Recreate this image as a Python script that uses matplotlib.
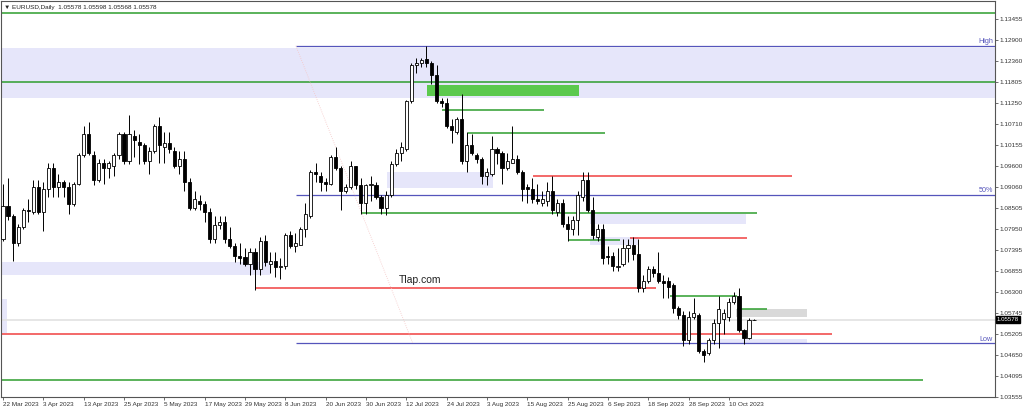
import matplotlib
matplotlib.use('Agg')
import matplotlib.pyplot as plt
from matplotlib.patches import Rectangle
from matplotlib.transforms import blended_transform_factory
import pandas as pd

plt.rcParams['font.family'] = ['Liberation Sans', 'DejaVu Sans']

# EURUSD daily, 22 Mar 2023 .. 17 Oct 2023
opens = [
    1.0770, 1.0855, 1.0830, 1.0760, 1.0800, 1.0845, 1.0840, 1.0905, 1.0840, 1.0900,
    1.0955, 1.0905, 1.0920, 1.0905, 1.0860, 1.0915, 1.0990, 1.1045, 1.0990, 1.0925,
    1.0970, 1.0955, 1.0960, 1.0990, 1.1045, 1.0975, 1.1040, 1.1025, 1.1015, 1.0975,
    1.1000, 1.1065, 1.1010, 1.1020, 1.1000, 1.0960, 1.0980, 1.0920, 1.0850, 1.0870,
    1.0860, 1.0840, 1.0770, 1.0805, 1.0815, 1.0770, 1.0750, 1.0725, 1.0722, 1.0705,
    1.0735, 1.0690, 1.0765, 1.0705, 1.0712, 1.0695, 1.0700, 1.0780, 1.0750, 1.0755,
    1.0795, 1.0830, 1.0945, 1.0935, 1.0920, 1.0915, 1.0985, 1.0955, 1.0895, 1.0905,
    1.0960, 1.0910, 1.0865, 1.0910, 1.0910, 1.0880, 1.0850, 1.0885, 1.0965, 1.0995,
    1.1005, 1.1130, 1.1225, 1.1230, 1.1240, 1.1230, 1.1200, 1.1130, 1.1125, 1.1065,
    1.1050, 1.1085, 1.0975, 1.1015, 1.0990, 1.0980, 1.0935, 1.0940, 1.1005, 1.0995,
    1.0955, 1.0970, 1.0980, 1.0945, 1.0905, 1.0900, 1.0875, 1.0865, 1.0870, 1.0895,
    1.0840, 1.0865, 1.0810, 1.0795, 1.0820, 1.0880, 1.0925, 1.0845, 1.0775, 1.0795,
    1.0725, 1.0725, 1.0695, 1.0705, 1.0745, 1.0755, 1.0730, 1.0640, 1.0660, 1.0690,
    1.0680, 1.0660, 1.0660, 1.0650, 1.0590, 1.0570, 1.0505, 1.0565, 1.0570, 1.0475,
    1.0470, 1.0505, 1.0550, 1.0560, 1.0565, 1.0605, 1.0620, 1.0530, 1.0510, 1.05578,
]
highs = [
    1.0913, 1.0930, 1.0835, 1.0810, 1.0850, 1.0875, 1.0925, 1.0925, 1.0920, 1.0970,
    1.0970, 1.0940, 1.0925, 1.0920, 1.0920, 1.0995, 1.1065, 1.1075, 1.1000, 1.0980,
    1.0980, 1.0975, 1.0995, 1.1050, 1.1050, 1.1095, 1.1055, 1.1045, 1.1020, 1.1010,
    1.1070, 1.1090, 1.1050, 1.1050, 1.1010, 1.1000, 1.1000, 1.0930, 1.0895, 1.0885,
    1.0870, 1.0850, 1.0830, 1.0830, 1.0830, 1.0800, 1.0760, 1.0760, 1.0745, 1.0745,
    1.0745, 1.0775, 1.0780, 1.0735, 1.0735, 1.0720, 1.0785, 1.0790, 1.0785, 1.0800,
    1.0865, 1.0950, 1.0970, 1.0945, 1.0930, 1.0990, 1.1010, 1.0960, 1.0915, 1.0975,
    1.0960, 1.0930, 1.0915, 1.0935, 1.0920, 1.0885, 1.0895, 1.0975, 1.1005, 1.1025,
    1.1135, 1.1230, 1.1245, 1.1245, 1.1276, 1.1235, 1.1225, 1.1140, 1.1140, 1.1085,
    1.1090, 1.1150, 1.1050, 1.1045, 1.0995, 1.0985, 1.0955, 1.1040, 1.1010, 1.1000,
    1.0995, 1.1065, 1.0990, 1.0950, 1.0915, 1.0930, 1.0915, 1.0895, 1.0920, 1.0935,
    1.0875, 1.0875, 1.0830, 1.0830, 1.0895, 1.0945, 1.0945, 1.0880, 1.0810, 1.0810,
    1.0750, 1.0735, 1.0745, 1.0770, 1.0770, 1.0775, 1.0770, 1.0675, 1.0700, 1.0700,
    1.0735, 1.0675, 1.0670, 1.0655, 1.0595, 1.0580, 1.0580, 1.0615, 1.0575, 1.0480,
    1.0510, 1.0560, 1.0620, 1.0585, 1.0615, 1.0630, 1.0640, 1.0535, 1.0562, 1.05598,
]
lows = [
    1.0765, 1.0820, 1.0713, 1.0750, 1.0795, 1.0815, 1.0835, 1.0835, 1.0790, 1.0880,
    1.0880, 1.0880, 1.0880, 1.0835, 1.0855, 1.0910, 1.0985, 1.0990, 1.0910, 1.0920,
    1.0915, 1.0930, 1.0935, 1.0980, 1.0965, 1.0965, 1.0985, 1.0965, 1.0965, 1.0940,
    1.0995, 1.0970, 1.0970, 1.0995, 1.0955, 1.0940, 1.0895, 1.0845, 1.0845, 1.0845,
    1.0815, 1.0760, 1.0760, 1.0795, 1.0760, 1.0745, 1.0710, 1.0705, 1.0700, 1.0675,
    1.0635, 1.0675, 1.0700, 1.0680, 1.0670, 1.0665, 1.0690, 1.0745, 1.0735, 1.0755,
    1.0775, 1.0825, 1.0920, 1.0895, 1.0895, 1.0910, 1.0950, 1.0845, 1.0890, 1.0900,
    1.0900, 1.0835, 1.0835, 1.0870, 1.0875, 1.0835, 1.0833, 1.0880, 1.0960, 1.0975,
    1.1000, 1.1125, 1.1205, 1.1220, 1.1220, 1.1175, 1.1125, 1.1115, 1.1060, 1.1020,
    1.1045, 1.0965, 1.0945, 1.0990, 1.0970, 1.0915, 1.0910, 1.0935, 1.0965, 1.0915,
    1.0950, 1.0970, 1.0940, 1.0870, 1.0865, 1.0865, 1.0860, 1.0855, 1.0855, 1.0835,
    1.0830, 1.0800, 1.0765, 1.0780, 1.0780, 1.0870, 1.0840, 1.0770, 1.0765, 1.0705,
    1.0705, 1.0685, 1.0685, 1.0700, 1.0710, 1.0715, 1.0630, 1.0630, 1.0655, 1.0670,
    1.0655, 1.0615, 1.0615, 1.0575, 1.0560, 1.0490, 1.0495, 1.0560, 1.0470, 1.0448,
    1.0465, 1.0495, 1.0485, 1.0520, 1.0555, 1.0600, 1.0525, 1.0495, 1.0508, 1.05568,
]
closes = [
    1.0855, 1.0830, 1.0760, 1.0800, 1.0845, 1.0843, 1.0905, 1.0840, 1.0900, 1.0955,
    1.0905, 1.0920, 1.0905, 1.0860, 1.0915, 1.0990, 1.1045, 1.0995, 1.0925, 1.0970,
    1.0955, 1.0970, 1.0990, 1.1045, 1.0975, 1.1045, 1.1030, 1.1015, 1.0975, 1.1000,
    1.1065, 1.1015, 1.1020, 1.1005, 1.0960, 1.0980, 1.0920, 1.0850, 1.0875, 1.0860,
    1.0840, 1.0770, 1.0805, 1.0815, 1.0770, 1.0750, 1.0725, 1.0720, 1.0705, 1.0735,
    1.0690, 1.0765, 1.0710, 1.0712, 1.0695, 1.0700, 1.0780, 1.0750, 1.0760, 1.0795,
    1.0835, 1.0945, 1.0940, 1.0920, 1.0915, 1.0985, 1.0955, 1.0895, 1.0905, 1.0960,
    1.0910, 1.0865, 1.0910, 1.0915, 1.0880, 1.0850, 1.0885, 1.0965, 1.0995, 1.1010,
    1.1130, 1.1225, 1.1232, 1.1238, 1.1230, 1.1200, 1.1130, 1.1125, 1.1065, 1.1055,
    1.1085, 1.0975, 1.1015, 1.0995, 1.0980, 1.0935, 1.0945, 1.1005, 1.0995, 1.0955,
    1.0975, 1.0980, 1.0945, 1.0900, 1.0900, 1.0875, 1.0870, 1.0875, 1.0895, 1.0845,
    1.0865, 1.0810, 1.0795, 1.0820, 1.0885, 1.0925, 1.0845, 1.0780, 1.0795, 1.0720,
    1.0722, 1.0698, 1.0700, 1.0745, 1.0755, 1.0730, 1.0640, 1.0660, 1.0690, 1.0680,
    1.0660, 1.0655, 1.0645, 1.0590, 1.0570, 1.0505, 1.0565, 1.0575, 1.0475, 1.0465,
    1.0505, 1.0550, 1.0585, 1.0575, 1.0605, 1.0620, 1.0530, 1.0510, 1.0558, 1.05578,
]

price_ticks = [1.13455, 1.12900, 1.12360, 1.11805, 1.11250, 1.10710, 1.10155, 1.09600,
               1.09060, 1.08505, 1.07950, 1.07395, 1.06855, 1.06300, 1.05745, 1.05205,
               1.04650, 1.04095, 1.03555]

# (price, first bar, last bar)
green_levels = [(1.1362, -5, 300), (1.1181, -5, 300), (1.1108, 87.1, 107.3),
                (1.1047, 92.3, 119.4), (1.0838, 71.2, 149.5), (1.0766, 112.3, 122.4),
                (1.0621, 132.3, 145.6), (1.0585, 145.6, 151.6), (1.04005, -5, 182.5)]
red_levels = [(1.0935, 105.2, 156.5), (1.0773, 124.4, 147.6),
              (1.0642, 50.1, 129.5), (1.0520, -5, 164.5)]
# zones: (first bar, last bar, low, high)
lavender_zones = [(-5, 300, 1.1138, 1.1271), (-5, 53, 1.0674, 1.0710),
                  (76.1, 97.3, 1.0903, 1.0944), (116.5, 147.4, 1.0810, 1.0836),
                  (116.5, 126, 1.0754, 1.0775), (142.3, 159.5, 1.0496, 1.0507),
                  (-5, 0.8, 1.0522, 1.0613)]
gray_zone = (145.4, 159.5, 1.0564, 1.0586)
green_zone = (84.1, 114.3, 1.1144, 1.1172)

fib_start = 58.1
fib_end = 81.3
fib_high = 1.1276
fib_low = 1.0496

bid = 1.05578

dates = pd.bdate_range('2023-03-22', periods=len(opens))

fig = plt.figure(figsize=(10.24, 4.11), dpi=100)
ax = fig.add_axes([1 / 1024, 14 / 411, 994 / 1024, 396 / 411])
ax.set_xlim(-0.4, 196.8)
ax.set_ylim(1.03599, 1.13933)

for x0, x1, lo, hi in lavender_zones:
    ax.add_patch(Rectangle((x0, lo), x1 - x0, hi - lo, color='#e6e6fa', lw=0, zorder=1))
x0, x1, lo, hi = gray_zone
ax.add_patch(Rectangle((x0, lo), x1 - x0, hi - lo, color='#d9d9d9', lw=0, zorder=1))
x0, x1, lo, hi = green_zone
ax.add_patch(Rectangle((x0, lo), x1 - x0, hi - lo, color='#5cc94e', lw=0, zorder=2))

ax.axhline(bid, color='#e2e2e2', lw=1.2, zorder=1.5)

for p, a, b in green_levels:
    ax.hlines(p, a, b, color='#2e9e2e', lw=1.1, zorder=2)
for p, a, b in red_levels:
    ax.hlines(p, a, b, color='#f04040', lw=1.1, zorder=2)

# fibo
fib_color = '#5555bb'
fib_mid = (fib_high + fib_low) / 2
for p in (fib_high, fib_mid, fib_low):
    ax.hlines(p, fib_start, 300, color=fib_color, lw=0.9, zorder=2)
ax.plot([fib_start, fib_end], [fib_high, fib_low], color='#f5c6c6', lw=0.6, ls=':', zorder=2)
tr = blended_transform_factory(ax.transAxes, ax.transData)
for p, lab in ((fib_high, 'High'), (fib_mid, '50%'), (fib_low, 'Low')):
    ax.text(0.998, p + 0.0002, lab, transform=tr, ha='right', va='bottom',
            fontsize=5.2, color=fib_color)

# candles
idx = list(range(len(opens)))
ax.vlines(idx, lows, highs, color='black', lw=0.7, zorder=3)
bottoms = [min(o, c) for o, c in zip(opens, closes)]
heights = [max(abs(c - o), 0.00005) for o, c in zip(opens, closes)]
faces = ['white' if c >= o else 'black' for o, c in zip(opens, closes)]
ax.bar(idx, heights, bottom=bottoms, width=0.62, color=faces, edgecolor='black',
       lw=0.6, zorder=4)

ax.text(82.7, 1.0661, 'Tlap.com', ha='center', va='center', fontsize=7.5, color='#222222', zorder=5)

# axes
ax.yaxis.tick_right()
ax.set_yticks(price_ticks)
ax.set_yticklabels(['%.5f' % t for t in price_ticks])
ax.tick_params(axis='y', length=2, width=0.5, pad=1.5, labelsize=4.6, colors='#333333')
tick_idx = list(range(0, len(opens), 8))
ax.set_xticks(tick_idx)
ax.set_xticklabels(['%d %s' % (dates[i].day, dates[i].strftime('%b %Y')) for i in tick_idx])
for lab in ax.get_xticklabels():
    lab.set_horizontalalignment('left')
ax.tick_params(axis='x', length=2, width=0.5, pad=1.5, labelsize=4.6, colors='#333333')
for s in ax.spines.values():
    s.set_color('#555555')
    s.set_linewidth(0.8)

ax.text(1.002, bid, '%.5f' % bid, transform=tr, ha='left', va='center', fontsize=4.4,
        color='white', bbox=dict(boxstyle='square,pad=0.15', fc='black', ec='black'),
        zorder=6, clip_on=False)

fig.text(4 / 1024, 1 - 7 / 411, '\u25bc EURUSD,Daily  1.05578 1.05598 1.05568 1.05578',
         ha='left', va='center', fontsize=4.6, color='#222222')

fig.savefig('out.png', dpi=100)
